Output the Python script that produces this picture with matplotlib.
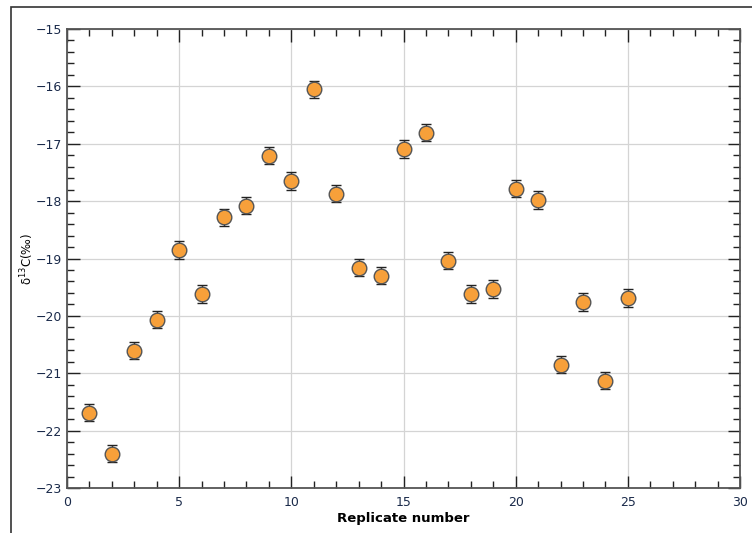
import matplotlib
matplotlib.use("Agg")
import matplotlib.pyplot as plt
from matplotlib.patches import Rectangle
from matplotlib.ticker import MultipleLocator


replicate = [1, 2, 3, 4, 5, 6, 7, 8, 9, 10, 11, 12, 13,
             14, 15, 16, 17, 18, 19, 20, 21, 22, 23, 24, 25]
delta13c = [-21.69, -22.40, -20.61, -20.07, -18.85, -19.62, -18.28, -18.08,
            -17.21, -17.65, -16.05, -17.87, -19.16, -19.30, -17.09, -16.81,
            -19.04, -19.62, -19.53, -17.78, -17.98, -20.85, -19.76, -21.13,
            -19.69]
error = [0.15] * len(replicate)

TICK_COLOR = "#1a2a4a"


def main():
    fig = plt.figure(figsize=(7.52, 5.33), dpi=100)

    # outer frame, right and bottom edges fall outside the image
    fig.patches.append(Rectangle((11 / 752, -0.05), 1.2, 1 - 7 / 533 + 0.05,
                                 transform=fig.transFigure, fill=False,
                                 edgecolor="#333333", linewidth=1.2))

    ax = fig.add_axes([67 / 752, 1 - 488 / 533, (740 - 67) / 752, (488 - 29) / 533])

    ax.errorbar(replicate, delta13c, yerr=error, fmt="o",
                markersize=10.5, markerfacecolor="#f7a03a",
                markeredgecolor="#555555", markeredgewidth=1.0,
                ecolor="#222222", elinewidth=1.0, capsize=3.5, capthick=1.0,
                zorder=3)

    ax.set_xlim(0, 30)
    ax.set_ylim(-23, -15)
    ax.xaxis.set_major_locator(MultipleLocator(5))
    ax.xaxis.set_minor_locator(MultipleLocator(1))
    ax.yaxis.set_major_locator(MultipleLocator(1))
    ax.yaxis.set_minor_locator(MultipleLocator(0.2))

    ax.tick_params(which="both", direction="in", top=True, right=True,
                   color="#222222", labelcolor=TICK_COLOR, labelsize=9)
    ax.tick_params(which="major", length=9, width=1.0)
    ax.tick_params(which="minor", length=5, width=1.0)
    ax.tick_params(axis="x", pad=6)

    ax.grid(True, which="major", color="#d4d4d4", linewidth=0.9)
    ax.set_axisbelow(True)

    for spine in ax.spines.values():
        spine.set_color("#555555")
        spine.set_linewidth(1.3)

    ax.set_xlabel("Replicate number", fontsize=9.5, fontweight="bold",
                  labelpad=2)
    ax.set_ylabel("δ$^{13}$C(‰)", fontsize=8.5)
    ax.yaxis.set_label_coords(-0.046, 0.5)

    fig.savefig("out.png", dpi=100)
    plt.close(fig)


if __name__ == "__main__":
    main()
